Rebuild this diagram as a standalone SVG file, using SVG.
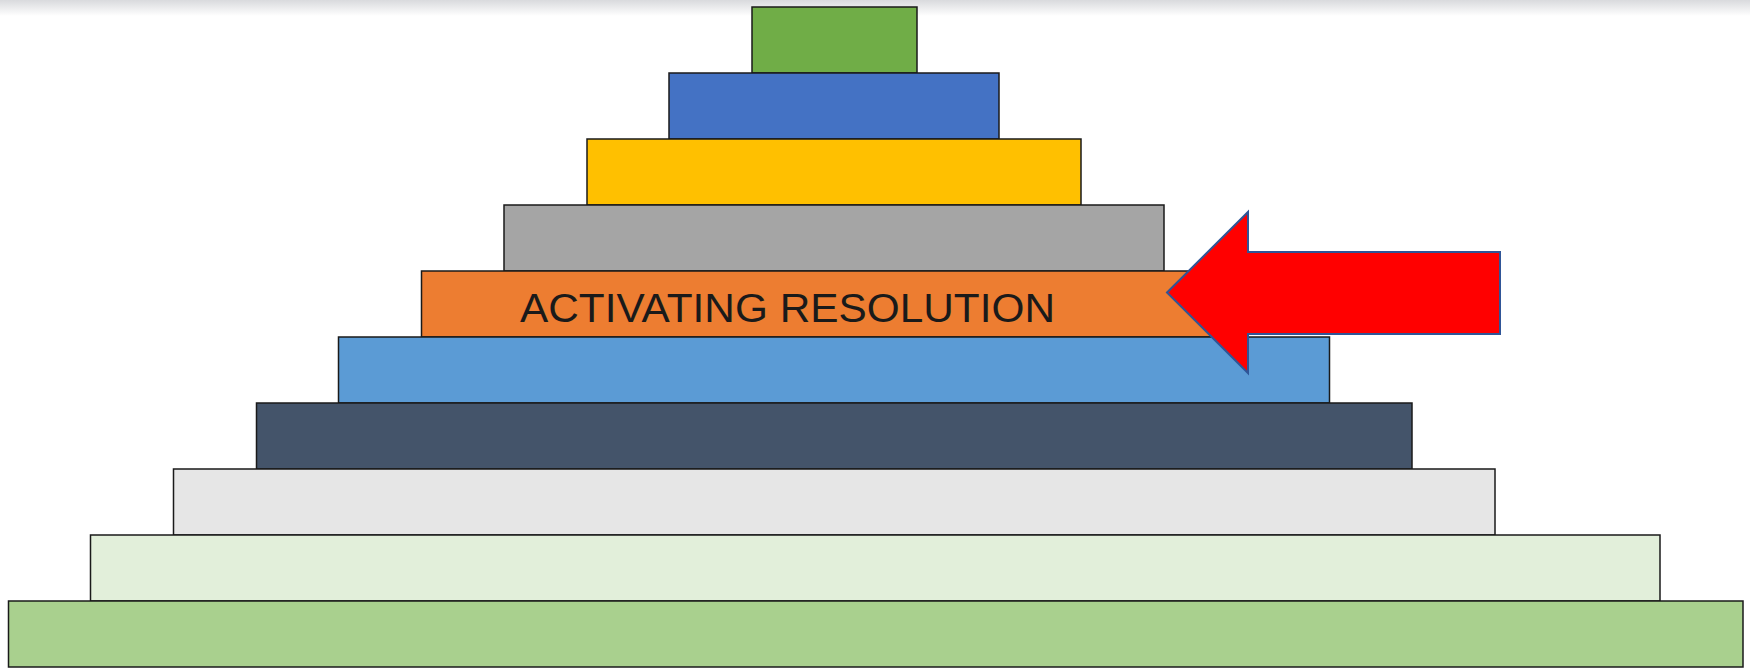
<svg xmlns="http://www.w3.org/2000/svg" width="1750" height="668" viewBox="0 0 1750 668">
<defs>
<linearGradient id="topShade" x1="0" y1="0" x2="0" y2="1">
<stop offset="0" stop-color="#d9dadd"/>
<stop offset="1" stop-color="#ffffff"/>
</linearGradient>
</defs>
<style>
.tier{stroke:#1a1a1a;stroke-width:1.5}
.lbl{font-family:"Liberation Sans",Arial,sans-serif;font-size:40px;fill:#1a1a1a}
</style>
<rect x="0" y="0" width="1750" height="668" fill="#ffffff"/>
<rect x="0" y="0" width="1750" height="16" fill="url(#topShade)"/>
<g id="tier1"><rect class="tier" x="752" y="7" width="165" height="66" fill="#70AD47"/></g>
<g id="tier2"><rect class="tier" x="669" y="73" width="330" height="66" fill="#4472C4"/></g>
<g id="tier3"><rect class="tier" x="587" y="139" width="494" height="66" fill="#FFC000"/></g>
<g id="tier4"><rect class="tier" x="504" y="205" width="660" height="66" fill="#A5A5A5"/></g>
<g id="tier5"><rect class="tier" x="421.5" y="271" width="825" height="66" fill="#ED7D31"/>
<text class="lbl" x="520" y="321.5" textLength="535" lengthAdjust="spacingAndGlyphs">ACTIVATING RESOLUTION</text></g>
<g id="tier6"><rect class="tier" x="338.5" y="337" width="991" height="66" fill="#5B9BD5"/></g>
<g id="tier7"><rect class="tier" x="256.5" y="403" width="1155.5" height="66" fill="#44546A"/></g>
<g id="tier8"><rect class="tier" x="173.5" y="469" width="1321.5" height="66" fill="#E6E6E6"/></g>
<g id="tier9"><rect class="tier" x="90.5" y="535" width="1569.5" height="66" fill="#E2EFDA"/></g>
<g id="tier10"><rect class="tier" x="8.5" y="601" width="1734.5" height="66" fill="#A9D08E"/></g>
<g id="connectors">
<g id="arrow"><polygon points="1167,292.5 1248,212 1248,252 1500,252 1500,334 1248,334 1248,373" fill="#FF0000" stroke="#2F5597" stroke-width="2" stroke-linejoin="miter"/></g>
</g>
</svg>
